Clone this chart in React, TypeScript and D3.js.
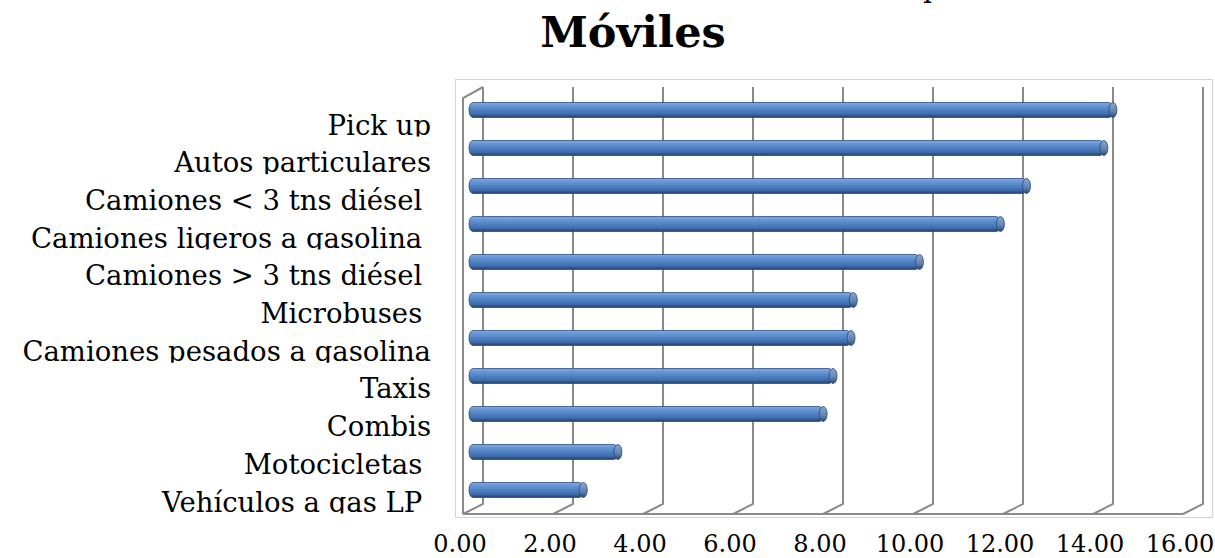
import React from "react";
import * as d3 from "d3";

const categories = [
  "Pick up",
  "Autos particulares",
  "Camiones < 3 tns diésel ",
  "Camiones ligeros a gasolina ",
  "Camiones > 3 tns diésel ",
  "Microbuses ",
  "Camiones pesados a gasolina",
  "Taxis",
  "Combis",
  "Motocicletas ",
  "Vehículos a gas LP ",
];
const values = [14.22, 14.02, 12.3, 11.72, 9.92, 8.45, 8.4, 8.0, 7.78, 3.22, 2.45];
const tickValues = [0, 2, 4, 6, 8, 10, 12, 14, 16];
const title = "Móviles";

export default function App() {
  const W = 1215;
  const H = 558;
  const x = d3.scaleLinear().domain([0, 16]).range([483, 1203]);
  const y = d3.scaleBand<string>().domain(categories).range([91, 509]);
  const DX = -20;
  const DY = 10;
  const gridTop = 87;
  const gridBottom = 504;
  const floorY = gridBottom + DY;
  const fmt = d3.format(".2f");
  const barH = 15;
  const bx = (v: number) => x(v) + DX / 2;
  const labelX = (v: number) => x(v) + DX - 3;
  const baseline = (c: string, i: number) => (y(c) as number) + y.bandwidth() / 2 + 24.5 - i * 0.3;

  return (
    <svg
      width={W}
      height={H}
      style={{ position: "absolute", left: 0, top: 0, background: "#fff" }}
      xmlns="http://www.w3.org/2000/svg"
    >
      <defs>
        <linearGradient id="barGrad" x1="0" y1="0" x2="0" y2="1">
          <stop offset="0" stopColor="#86abde" />
          <stop offset="0.18" stopColor="#6a99d6" />
          <stop offset="0.5" stopColor="#4f82c4" />
          <stop offset="0.78" stopColor="#3d6cab" />
          <stop offset="1" stopColor="#223f6b" />
        </linearGradient>
        <linearGradient id="capGrad" x1="0" y1="0" x2="0" y2="1">
          <stop offset="0" stopColor="#8aa8cf" />
          <stop offset="0.6" stopColor="#5f82b3" />
          <stop offset="1" stopColor="#2c4a78" />
        </linearGradient>
        {categories.map((c, i) => (
          <clipPath id={`lc${i}`} key={c}>
            <rect x={0} y={baseline(c, i) - 34} width={445} height={36} />
          </clipPath>
        ))}
      </defs>

      {/* cut-off glyph from previous title line */}
      <text x={923} y={-3.5} fontFamily="DejaVu Serif" fontSize={28} fill="#000">
        p
      </text>

      <text
        x={633}
        y={47}
        textAnchor="middle"
        fontFamily="DejaVu Serif"
        fontWeight="bold"
        fontSize={43}
        fill="#000"
      >
        {title}
      </text>

      {/* plot area border */}
      <rect x={455.5} y={79.5} width={757} height={438} fill="#fff" stroke="#d4d4d4" strokeWidth={1} />

      {/* left wall */}
      <path
        d={`M${x(0) + DX},${floorY} L${x(0) + DX},${gridTop + DY + 1} L${x(0)},${gridTop}`}
        fill="none"
        stroke="#8a8a8a"
        strokeWidth={2}
      />
      {/* floor front edge */}
      <line x1={x(0) + DX} x2={x(16) + DX} y1={floorY} y2={floorY} stroke="#8a8a8a" strokeWidth={2} />

      {/* gridlines on back wall with floor diagonals */}
      {tickValues.map((t) => (
        <path
          key={t}
          d={`M${x(t)},${gridTop} L${x(t)},${gridBottom} L${x(t) + DX},${floorY}`}
          fill="none"
          stroke="#8a8a8a"
          strokeWidth={2}
        />
      ))}

      {/* bars */}
      {categories.map((c, i) => {
        const cy = (y(c) as number) + y.bandwidth() / 2;
        const x0 = bx(0) - 4;
        const x1 = bx(values[i]);
        return (
          <g key={c}>
            <rect
              x={x0}
              y={cy - barH / 2}
              width={x1 - x0}
              height={barH}
              rx={4}
              ry={7}
              fill="url(#barGrad)"
              stroke="#2c4d80"
              strokeWidth={0.8}
            />
            <ellipse cx={x1} cy={cy} rx={4} ry={barH / 2} fill="url(#capGrad)" stroke="#2a4874" strokeWidth={0.8} />
          </g>
        );
      })}

      {/* category labels */}
      {categories.map((c, i) => (
        <text
          key={c}
          x={431}
          y={baseline(c, i)}
          textAnchor="end"
          fontFamily="DejaVu Serif"
          fontSize={27.5}
          fill="#000"
          clipPath={`url(#lc${i})`}
          style={{ whiteSpace: "pre" }}
        >
          {c}
        </text>
      ))}

      {/* x tick labels */}
      {tickValues.map((t) => (
        <text
          key={t}
          x={labelX(t)}
          y={551.5}
          textAnchor="middle"
          fontFamily="DejaVu Serif"
          fontSize={24}
          fill="#000"
        >
          {fmt(t)}
        </text>
      ))}
    </svg>
  );
}
